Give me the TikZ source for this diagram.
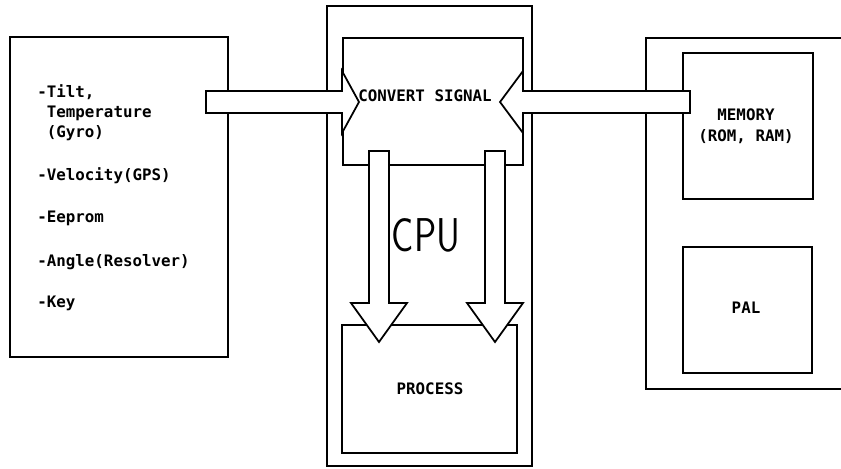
\documentclass[tikz,border=0pt]{standalone}
\usepackage{fontspec}
\usepackage{graphicx}
\setmonofont{DejaVu Sans Mono}
\usetikzlibrary{calc,fit}
\tikzset{
  unitbox/.style={draw, line width=1pt, inner sep=0pt},
  tagtext/.style={font=\ttfamily\bfseries\fontsize{9}{11.6}\selectfont, inner sep=0pt},
  fatarrow/.style={draw, fill=white, line width=1pt, line join=miter},
}

\begin{document}
\begin{tikzpicture}[x=0.02cm, y=-0.02cm]
  \useasboundingbox (0,0) rectangle (841,469);
  \clip (0,0) rectangle (841,469);
  % blocks
  \node[unitbox, fit={(10,37) (228,357)}] (sensors) {};
  \node[unitbox, fit={(327,6) (532,466)}] (cpu) {};
  \node[unitbox, fit={(343,38) (523,165)}] (convert) {};
  \node[unitbox, fit={(342,325) (517,453)}] (process) {};
  \node[unitbox, fit={(646,38) (870,389)}] (board) {};
  \node[unitbox, fit={(683,53) (813,199)}] (memory) {};
  \node[unitbox, fit={(683,247) (812,373)}] (pal) {};
  % texts
  \node[tagtext, anchor=base west, align=left] (tilt) at (37,138) {-Tilt,\\\phantom{-}Temperature\\\phantom{-}(Gyro)};
  \node[tagtext, anchor=base west] (velocity) at (37,181) {-Velocity(GPS)};
  \node[tagtext, anchor=base west] (eeprom) at (37,223) {-Eeprom};
  \node[tagtext, anchor=base west] (angle) at (37,267) {-Angle(Resolver)};
  \node[tagtext, anchor=base west] (key) at (37,308) {-Key};
  \node[tagtext] (convtext) at (425,96) {CONVERT SIGNAL};
  \node[inner sep=0pt] (cputext) at (426,235) {\scalebox{0.78}[1]{\fontsize{27}{27}\selectfont\sffamily CPU}};
  \node[tagtext] (proctext) at (430,389) {PROCESS};
  \node[tagtext] (memtext) at (746,115) {MEMORY};
  \node[tagtext, anchor=base] (romram) at (746,142) {(ROM, RAM)};
  \node[tagtext] (paltext) at (746,308) {PAL};
  % hollow arrows
  \coordinate (inA) at (206,102);
  \coordinate (inB) at (359,102);
  \coordinate (memA) at (690,102);
  \coordinate (memB) at (500,102);
  \coordinate (downLA) at (379,151);
  \coordinate (downLB) at (379,342);
  \coordinate (downRA) at (495,151);
  \coordinate (downRB) at (495,342);
  \draw[fatarrow] ($(inA)+(0,-11)$) -- ($(inB)+(-17,-11)$) -- ($(inB)+(-17,-31)$) -- (inB)
    -- ($(inB)+(-17,31)$) -- ($(inB)+(-17,11)$) -- ($(inA)+(0,11)$) -- cycle;
  \draw[fatarrow] ($(memA)+(0,-11)$) -- ($(memB)+(23,-11)$) -- ($(memB)+(23,-31)$) -- (memB)
    -- ($(memB)+(23,31)$) -- ($(memB)+(23,11)$) -- ($(memA)+(0,11)$) -- cycle;
  \draw[fatarrow] ($(downLA)+(-10,0)$) -- ($(downLB)+(-10,-39)$) -- ($(downLB)+(-28,-39)$) -- (downLB)
    -- ($(downLB)+(28,-39)$) -- ($(downLB)+(10,-39)$) -- ($(downLA)+(10,0)$) -- cycle;
  \draw[fatarrow] ($(downRA)+(-10,0)$) -- ($(downRB)+(-10,-39)$) -- ($(downRB)+(-28,-39)$) -- (downRB)
    -- ($(downRB)+(28,-39)$) -- ($(downRB)+(10,-39)$) -- ($(downRA)+(10,0)$) -- cycle;
\end{tikzpicture}
\end{document}
